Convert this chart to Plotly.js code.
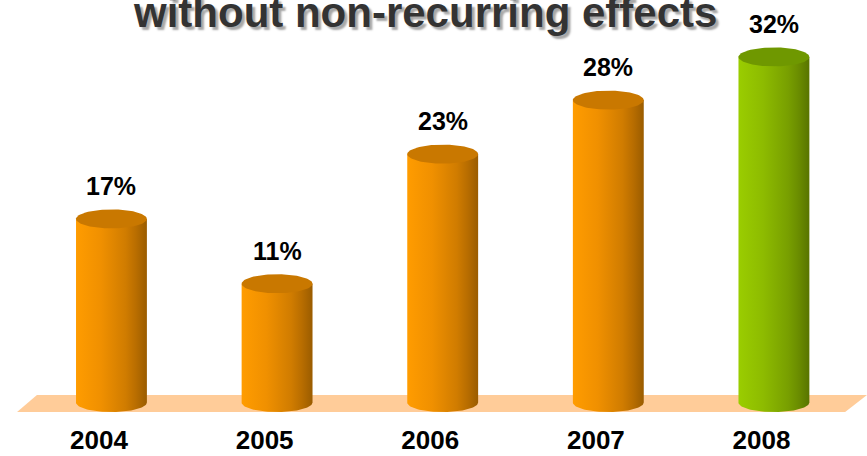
<!DOCTYPE html>
<html>
<head>
<meta charset="utf-8">
<script src="https://cdn.plot.ly/plotly-3.0.1.min.js"></script>
<style>html,body{margin:0;padding:0;background:#fff;}#chart{width:867px;height:456px;}</style>
</head>
<body>
<div id="chart"></div>
<script>
// ---- data ----
const years = ['2004', '2005', '2006', '2007', '2008'];
const values = [17, 11, 23, 28, 32];
const valueLabels = ['17%', '11%', '23%', '28%', '32%'];
const titleText = 'without non-recurring effects';

// ---- styling ----
const orangeBody = [[0, '#FF9C00'], [0.35, '#F09000'], [0.7, '#D07C00'], [0.85, '#B86D00'], [1, '#9A5C00']];
const greenBody = [[0, '#9ACD00'], [0.35, '#8DBB00'], [0.7, '#789F00'], [0.85, '#6A8C00'], [1, '#587400']];
const bodyScales = [orangeBody, orangeBody, orangeBody, orangeBody, greenBody];
const topColors = ['#C97800', '#C97800', '#C97800', '#C97800', '#6F9800'];

const hw = 0.214;   // half width of a cylinder (x units)
const eb = 0.88;    // vertical semi-axis of the ellipses (y units)
const N = 48;

const traces = [];
values.forEach((v, i) => {
  // body
  const bx = [i - hw, i + hw], by = [v, v];
  for (let k = 0; k <= N; k++) {
    const th = Math.PI * k / N;
    bx.push(i + hw * Math.cos(th));
    by.push(-eb * Math.sin(th));
  }
  bx.push(i - hw); by.push(v);
  traces.push({
    x: bx, y: by, type: 'scatter', mode: 'lines', fill: 'toself',
    line: {width: 0, color: 'rgba(0,0,0,0)'},
    fillgradient: {type: 'horizontal', colorscale: bodyScales[i]},
    hoverinfo: 'skip', showlegend: false
  });
  // top ellipse
  const tx = [], ty = [];
  for (let k = 0; k <= 2 * N; k++) {
    const th = Math.PI * k / N;
    tx.push(i + hw * Math.cos(th));
    ty.push(v + eb * Math.sin(th));
  }
  traces.push({
    x: tx, y: ty, type: 'scatter', mode: 'lines', fill: 'toself',
    line: {width: 0, color: 'rgba(0,0,0,0)'}, fillcolor: topColors[i],
    hoverinfo: 'skip', showlegend: false
  });
});

const n = years.length;
const floorTop = 0.69, floorBottom = -0.88;
const floorPath = `M ${-0.45},${floorTop} L ${n - 1 + 0.562},${floorTop} L ${n - 1 + 0.43},${floorBottom} L ${-0.57},${floorBottom} Z`;

const annotations = values.map((v, i) => ({
  x: i, y: v, xref: 'x', yref: 'y', text: valueLabels[i], showarrow: false,
  yshift: 33, yanchor: 'middle',
  font: {family: 'Liberation Sans, Arial, sans-serif', size: 25, color: '#000', weight: 'bold'}
}));

const layout = {
  width: 867, height: 456,
  margin: {l: 0, r: 0, t: 0, b: 36, pad: 0},
  paper_bgcolor: '#fff', plot_bgcolor: '#fff',
  title: {
    text: titleText, x: 0.491, xanchor: 'center', y: 0.974, yanchor: 'middle', yref: 'container',
    font: {family: 'Liberation Sans, Arial, sans-serif', size: 42, color: '#333333', weight: 'bold',
           shadow: '3px 3px 2px rgba(0,0,0,0.35)'}
  },
  xaxis: {
    range: [-0.673, 4.562], showgrid: false, zeroline: false, showline: false,
    tickvals: years.map((y, i) => i - 0.075), ticktext: years, ticks: '',
    ticklabelstandoff: 2,
    tickfont: {family: 'Liberation Sans, Arial, sans-serif', size: 26, color: '#000', weight: 'bold'},
    fixedrange: true
  },
  yaxis: {
    range: [-1.62, 37.27], showgrid: false, zeroline: false, showline: false,
    showticklabels: false, ticks: '', fixedrange: true
  },
  shapes: [{type: 'path', path: floorPath, xref: 'x', yref: 'y', fillcolor: '#FFCC99', line: {width: 0}, layer: 'below'}],
  annotations: annotations,
  showlegend: false
};

Plotly.newPlot('chart', traces, layout, {displayModeBar: false, staticPlot: true});
</script>
</body>
</html>
